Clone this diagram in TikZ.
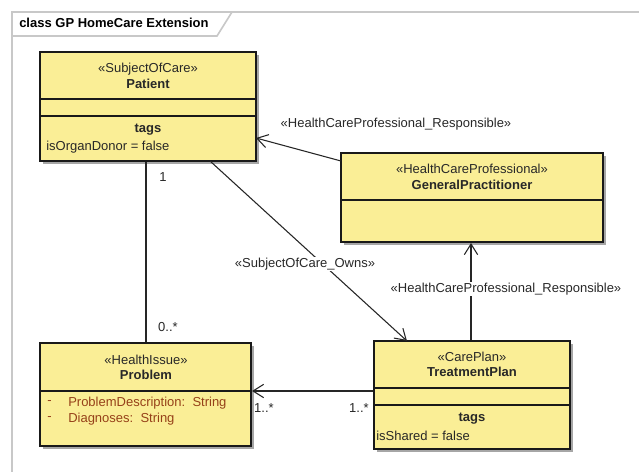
\documentclass[tikz,border=0pt]{standalone}
\usepackage{fontspec}
\setmainfont{Liberation Sans}
\usetikzlibrary{arrows.meta,fit,shadows}
\definecolor{clsfill}{RGB}{250,238,150}
\definecolor{attrcol}{RGB}{150,65,25}
\definecolor{framecol}{RGB}{200,200,200}
\definecolor{txtcol}{RGB}{40,40,40}
\begin{document}
\begin{tikzpicture}[x=0.75pt,y=-0.75pt,
  every node/.style={font=\fontsize{9.75pt}{11pt}\selectfont, text=txtcol},
  cls/.style={draw=black!90, line width=1.5pt, fill=clsfill, inner sep=0pt,
    drop shadow={shadow xshift=2.2pt, shadow yshift=-2.2pt, fill=black, opacity=0.35}},
  divider/.style={draw=black!90, line width=1.5pt},
  ster/.style={inner sep=0pt, anchor=center},
  cname/.style={inner sep=0pt, anchor=center, font=\fontsize{9.75pt}{11pt}\selectfont\bfseries},
  attr/.style={inner sep=0pt, anchor=west},
  conn/.style={draw=black!85, line width=0.8pt},
  openarrow/.style={conn, -{Straight Barb[length=8pt,width=10pt,line width=0.8pt]}},
  lbl/.style={inner sep=1pt, fill=white},
  mult/.style={inner sep=0pt}
]
\useasboundingbox (0,0) rectangle (639,472);
\fill[white] (0,0) rectangle (639,472);
% frame
\draw[framecol, line width=1.2pt] (639,12) -- (12,12) -- (12,472);
\draw[framecol, line width=1.2pt] (12,36) -- (217,36) -- (232,12);
\node[attr, font=\fontsize{9.75pt}{11pt}\selectfont\bfseries, text=black] (title) at (19,23) {class GP HomeCare Extension};

% Patient
\node[cls, fit={(40,52) (256,161)}] (patient) {};
\draw[divider] (40,99) -- (256,99);
\draw[divider] (40,116) -- (256,116);
\node[ster] (patS) at (148,69) {«SubjectOfCare»};
\node[cname] (patN) at (148,84) {Patient};
\node[cname] (patT) at (148,130) {tags};
\node[attr] (patA) at (46,147) {isOrganDonor = false};

% GeneralPractitioner
\node[cls, fit={(341,153) (603,242)}] (gp) {};
\draw[divider] (341,200) -- (603,200);
\node[ster] (gpS) at (472,169) {«HealthCareProfessional»};
\node[cname] (gpN) at (472,185) {GeneralPractitioner};

% Problem
\node[cls, fit={(40,343) (251,446)}] (problem) {};
\draw[divider] (40,391) -- (251,391);
\node[ster] (prS) at (146,360) {«HealthIssue»};
\node[cname] (prN) at (146,375) {Problem};
\node[attr, text=attrcol] (prD1) at (47,403) {-};
\node[attr, text=attrcol] (prA1) at (68,403) {ProblemDescription:\ \ String};
\node[attr, text=attrcol] (prD2) at (47,419) {-};
\node[attr, text=attrcol] (prA2) at (68,419) {Diagnoses:\ \ String};

% TreatmentPlan
\node[cls, fit={(374,341) (570,449)}] (tp) {};
\draw[divider] (374,388) -- (570,388);
\draw[divider] (374,405) -- (570,405);
\node[ster] (tpS) at (472,357) {«CarePlan»};
\node[cname] (tpN) at (472,372) {TreatmentPlan};
\node[cname] (tpT) at (472,419) {tags};
\node[attr] (tpA) at (376,436) {isShared = false};

% Connectors
% Patient -- Problem
\draw[conn] (patient.south -| 146,0) -- (problem.north -| 146,0);
\node[mult] (m1) at (163,177) {1};
\node[mult] (m0) at (168,327) {0..*};

% GP -> Patient
\coordinate (gpL) at (341,161);
\coordinate (patR) at (256,138);
\draw[openarrow] (gpL) -- (patR);
\node[lbl] (l1) at (396,124) {«HealthCareProfessional\_Responsible»};

% Patient -> TreatmentPlan
\coordinate (patB) at (210,161);
\coordinate (tpT1) at (407,341);
\draw[openarrow] (patB) -- (tpT1);
\node[lbl] (l2) at (305,264) {«SubjectOfCare\_Owns»};

% TreatmentPlan -> GP
\draw[openarrow] (tp.north -| 471,0) -- (gp.south -| 471,0);
\node[lbl] (l3) at (506,289) {«HealthCareProfessional\_Responsible»};

% TreatmentPlan -> Problem
\draw[openarrow] (tp.west |- 0,391) -- (problem.east |- 0,391);
\node[mult] (m2) at (264,408) {1..*};
\node[mult] (m3) at (359,408) {1..*};
\end{tikzpicture}
\end{document}
